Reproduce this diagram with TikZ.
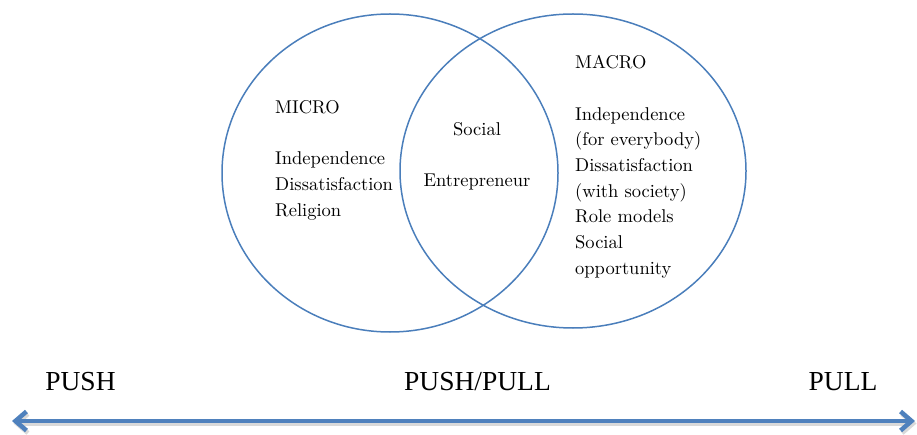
\documentclass[tikz,border=0pt]{standalone}
\usepackage{fontspec}
\newfontfamily\polefont{Liberation Serif}
\newfontfamily\listfont{lmroman10-regular.otf}
\usetikzlibrary{arrows.meta,shapes.geometric}
\definecolor{ringblue}{HTML}{4A7EBB}
\definecolor{axisblue}{HTML}{4F81BD}
\tikzset{
    ring/.style =   {ellipse,
                    fill=none,
                    draw=ringblue,
                    line width=1.5pt,
                    inner sep=0pt},
    list/.style =   {align=left,
                    anchor=north west,
                    text=black,
                    inner sep=0pt,
                    font=\listfont\fontsize{18.5}{25.7}\selectfont},
    core/.style =   {list,
                    align=center,
                    anchor=north},
    pole/.style =   {anchor=base,
                    text=black,
                    inner sep=0pt,
                    font=\polefont\fontsize{27.5}{30}\selectfont},
    axis/.style =   {draw=axisblue,
                    line width=4.5pt,
                    <->},
    axisshade/.style = {axis,
                    draw=black!15,
                    transform canvas={shift={(1.5pt,-2.5pt)}}},
    >={Straight Barb[length=11pt,width=19pt]}}

\begin{document}
\begin{tikzpicture}[x=1pt,y=-1pt]
    \useasboundingbox (0,0) rectangle (917,435);
                    \node[ring, minimum width=336pt, minimum height=318pt] (micro) at (390,173) {};
                    \node[ring, minimum width=346pt, minimum height=314pt] (macro) at (573,171) {};
                    \node[list]      (microtext) at (275,100.3)  {MICRO\\[25.7pt]Independence\\Dissatisfaction\\Religion};
                    \node[core]      (se)        at (477,122.3)  {Social\\[25.7pt]Entrepreneur};
                    \node[list]      (macrotext) at (575,55.3)   {MACRO\\[25.7pt]Independence\\(for everybody)\\Dissatisfaction\\(with society)\\Role models\\Social\\opportunity};
                    \node[pole]      (push)      at (80.5,390)   {PUSH};
                    \node[pole]      (pushpull)  at (477.5,390)  {PUSH/PULL};
                    \node[pole]      (pull)      at (843,390)    {PULL};
                    \coordinate      (west)      at (12,421);
                    \coordinate      (east)      at (915,421);
                    \draw [axisshade]   (west) -- (east);
                    \draw [axis]        (west) -- (east);
        \end{tikzpicture}
\end{document}
